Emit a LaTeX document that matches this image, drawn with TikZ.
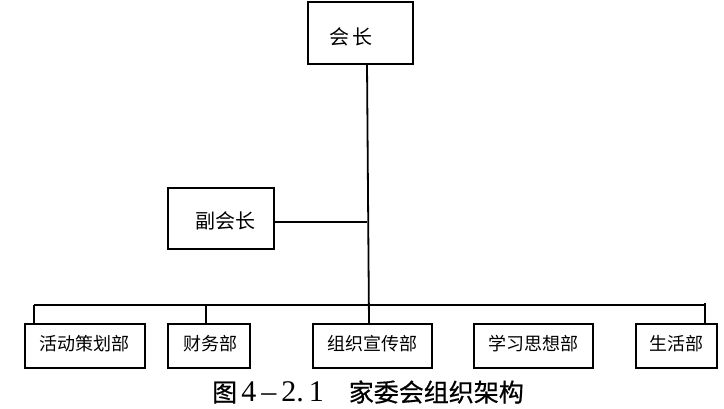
\documentclass[tikz,border=0pt]{standalone}
\usepackage{fontspec}
\setmainfont{Liberation Serif}
\newfontfamily\cjk{Noto Sans CJK SC}
\newfontfamily\cjkcap[FakeBold=0.6]{Noto Sans CJK SC}
\begin{document}
\begin{tikzpicture}[x=1pt,y=-1pt,
  box/.style={draw,line width=1.8pt,inner sep=0pt,anchor=north west},
  lbl/.style={font=\cjk\fontsize{18}{18}\selectfont,inner sep=0pt},
  conn/.style={line width=1.3pt}]
\useasboundingbox (0,0) rectangle (724,408);
% boxes
\node[box,minimum width=105pt,minimum height=62pt] (hz) at (307,1) {};
\node[lbl,font=\cjk\fontsize{20}{20}\selectfont] at (351,37) {会\,长};
\node[box,minimum width=106pt,minimum height=61pt] (fhz) at (167,187) {};
\node[lbl,font=\cjk\fontsize{20}{20}\selectfont] at (225,221) {副会长};
\node[box,minimum width=120pt,minimum height=44pt] (b1) at (24,323) {};
\node[box,minimum width=82pt,minimum height=44pt] (b2) at (167,323) {};
\node[box,minimum width=119pt,minimum height=44pt] (b3) at (312,323) {};
\node[box,minimum width=119pt,minimum height=44pt] (b4) at (473,323) {};
\node[box,minimum width=81pt,minimum height=44pt] (b5) at (635,323) {};
\node[lbl] at ([yshift=2pt]b1.center) {活动策划部};
\node[lbl] at ([yshift=2pt,xshift=2pt]b2.center) {财务部};
\node[lbl] at ([yshift=2pt]b3.center) {组织宣传部};
\node[lbl] at ([yshift=2pt]b4.center) {学习思想部};
\node[lbl] at ([yshift=2pt]b5.center) {生活部};
% connectors
\coordinate (busL) at (34,305);
\coordinate (busR) at (705,305);
\coordinate (jv) at (367,222);
\draw[line width=1.8pt] (367,63) -- (369,323);
\draw[conn] (fhz.east |- jv) -- (jv);
\draw[conn] (busL) -- (busR);
\draw[conn] (busL) -- (34,323);
\draw[line width=1.8pt] (206,305) -- (206,323);
\draw[line width=1.8pt] (705,303) -- (705,323);
% caption
\node[inner sep=0pt,font=\fontsize{25}{25}\selectfont] (cap) at (368,392)
  {{\cjkcap 图}\,{\fontsize{30}{30}\selectfont 4\,–\,2.\,1}\quad{\cjkcap 家委会组织架构}};
\end{tikzpicture}
\end{document}
